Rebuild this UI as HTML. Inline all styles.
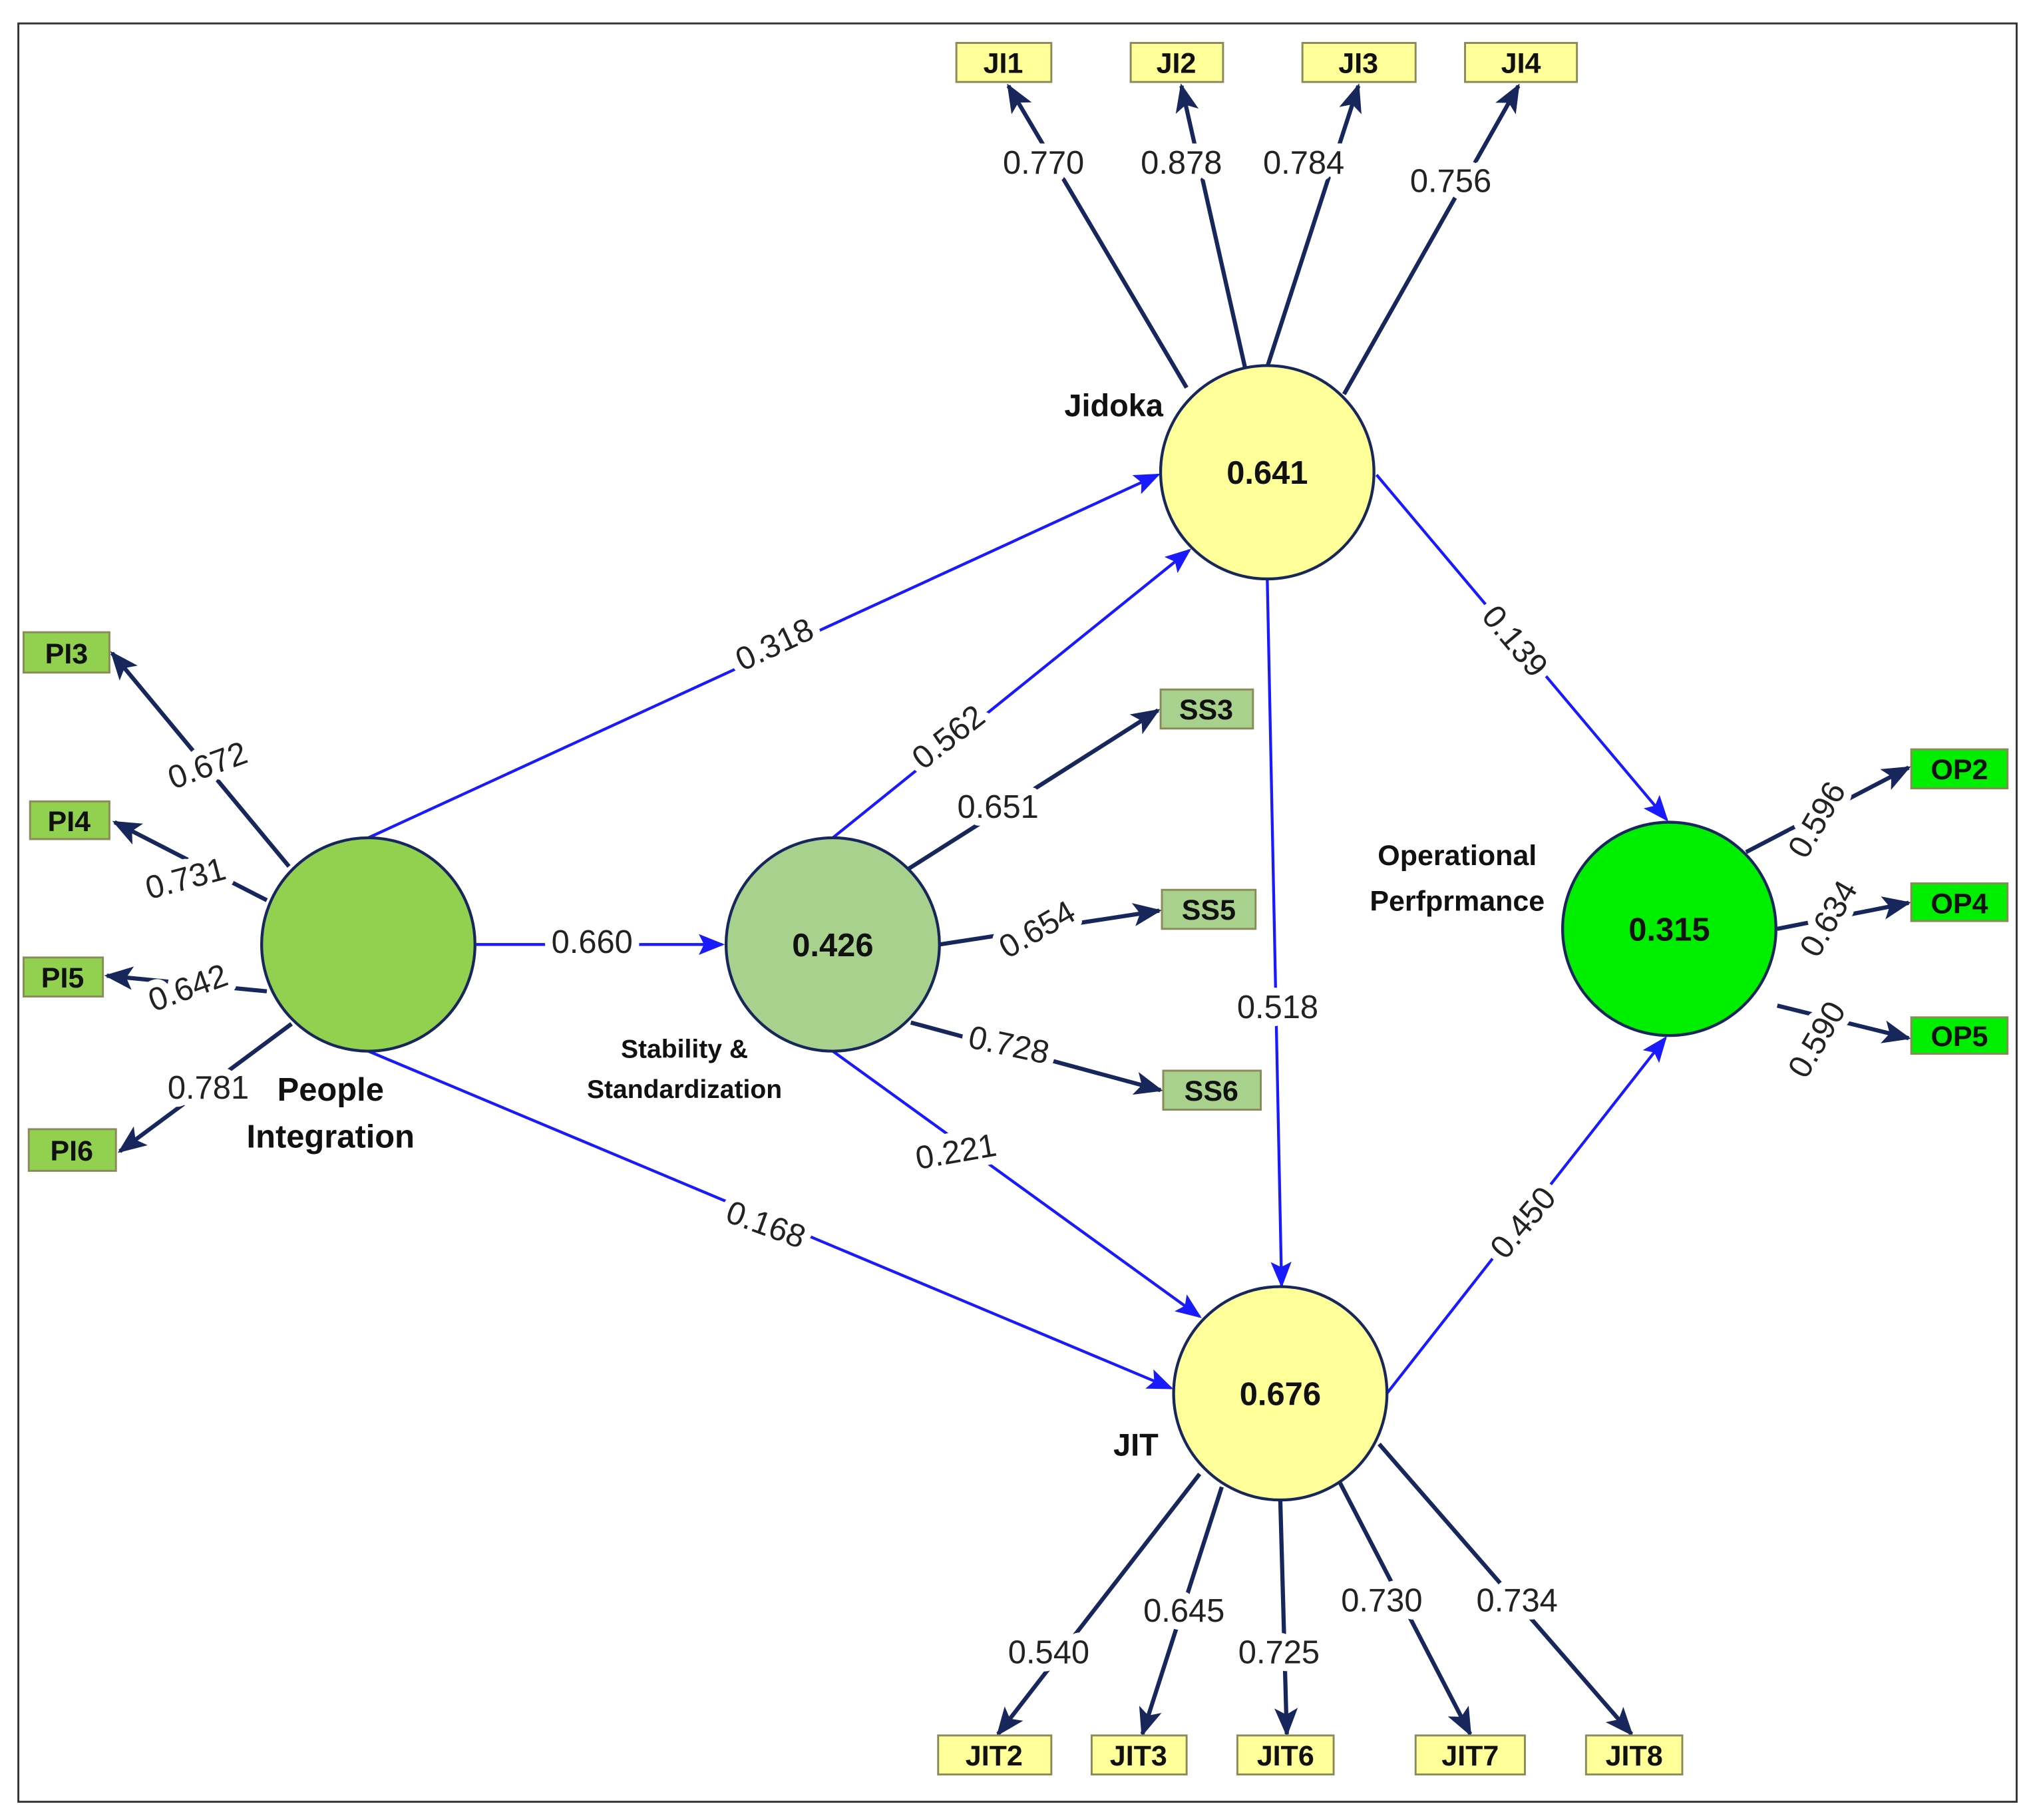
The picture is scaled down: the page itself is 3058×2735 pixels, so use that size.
<!DOCTYPE html>
<html><head><meta charset="utf-8"><style>html,body{margin:0;padding:0;background:#fff}svg{display:block}</style></head>
<body>
<svg width="3058" height="2735" viewBox="0 0 1564 1399" xmlns="http://www.w3.org/2000/svg" font-family="Liberation Sans, sans-serif">
<defs>
<marker id="d" markerUnits="userSpaceOnUse" markerWidth="22" markerHeight="18" refX="20" refY="9" orient="auto"><path d="M0,0 L22,9 L0,18 L5,9 Z" fill="#17275c"/></marker>
<marker id="b" markerUnits="userSpaceOnUse" markerWidth="20" markerHeight="16" refX="18" refY="8" orient="auto"><path d="M0,0 L20,8 L0,16 L4,8 Z" fill="#1a1aff"/></marker>
</defs>
<rect x="0" y="0" width="1564" height="1399" fill="#fff"/>
<rect x="14" y="18" width="1536" height="1367" fill="none" stroke="#333" stroke-width="1.5"/>
<g stroke="#17275c" stroke-width="3.2" marker-end="url(#d)" fill="none">
<line x1="912" y1="298" x2="775" y2="66"/>
<line x1="957" y1="283" x2="908" y2="66"/>
<line x1="974" y1="282" x2="1044" y2="66"/>
<line x1="1033" y1="303" x2="1167" y2="66"/>
<line x1="222" y1="666" x2="86" y2="502"/>
<line x1="205" y1="692" x2="88" y2="632"/>
<line x1="205" y1="762" x2="82" y2="750"/>
<line x1="224" y1="787" x2="92" y2="885"/>
<line x1="698" y1="668" x2="890" y2="546"/>
<line x1="722" y1="726" x2="891" y2="700"/>
<line x1="700" y1="786" x2="892" y2="838"/>
<line x1="1342" y1="655" x2="1467" y2="590"/>
<line x1="1366" y1="714" x2="1467" y2="694"/>
<line x1="1366" y1="773" x2="1467" y2="798"/>
<line x1="922" y1="1133" x2="767" y2="1333"/>
<line x1="939" y1="1143" x2="878" y2="1333"/>
<line x1="984" y1="1153" x2="989" y2="1333"/>
<line x1="1030" y1="1140" x2="1130" y2="1333"/>
<line x1="1060" y1="1110" x2="1254" y2="1333"/>
</g>
<g stroke="#1a1aff" stroke-width="2.2" marker-end="url(#b)" fill="none">
<line x1="283" y1="644" x2="890" y2="365"/>
<line x1="366" y1="726" x2="555" y2="726"/>
<line x1="283" y1="808" x2="900" y2="1067"/>
<line x1="640" y1="644" x2="914" y2="423"/>
<line x1="640" y1="808" x2="922" y2="1012"/>
<line x1="974" y1="445" x2="985" y2="988"/>
<line x1="1058" y1="365" x2="1281" y2="630"/>
<line x1="1066" y1="1071" x2="1280" y2="798"/>
</g>
<g stroke="#17275c" stroke-width="2.2">
<circle cx="283" cy="726" r="82" fill="#92d050"/>
<circle cx="640" cy="726" r="82" fill="#a9d18e"/>
<circle cx="974" cy="363" r="82" fill="#ffff99"/>
<circle cx="984" cy="1071" r="82" fill="#ffff99"/>
<circle cx="1283" cy="714" r="82" fill="#00ee00"/>
</g>
<g font-weight="bold" font-size="25" text-anchor="middle" fill="#111">
<text x="640" y="735">0.426</text>
<text x="974" y="372">0.641</text>
<text x="984" y="1080">0.676</text>
<text x="1283" y="723">0.315</text>
</g>
<g stroke="#8a8a5a" stroke-width="1.5" font-weight="bold" font-size="22" text-anchor="middle">
<rect x="735" y="33" width="73" height="30" fill="#ffff99"/><rect x="869" y="33" width="71" height="30" fill="#ffff99"/>
<rect x="1001" y="33" width="87" height="30" fill="#ffff99"/><rect x="1126" y="33" width="86" height="30" fill="#ffff99"/>
<rect x="18" y="486" width="66" height="31" fill="#92d050"/><rect x="23" y="616" width="61" height="29" fill="#92d050"/>
<rect x="18" y="736" width="61" height="30" fill="#92d050"/><rect x="22" y="868" width="67" height="32" fill="#92d050"/>
<rect x="892" y="530" width="71" height="30" fill="#a9d18e"/><rect x="893" y="684" width="72" height="30" fill="#a9d18e"/>
<rect x="894" y="823" width="75" height="30" fill="#a9d18e"/>
<rect x="1469" y="576" width="74" height="30" fill="#00ee00"/><rect x="1469" y="679" width="74" height="29" fill="#00ee00"/>
<rect x="1469" y="782" width="74" height="28" fill="#00ee00"/>
<rect x="721" y="1334" width="87" height="30" fill="#ffff99"/><rect x="839" y="1334" width="73" height="30" fill="#ffff99"/>
<rect x="951" y="1334" width="74" height="30" fill="#ffff99"/><rect x="1088" y="1334" width="84" height="30" fill="#ffff99"/>
<rect x="1219" y="1334" width="74" height="30" fill="#ffff99"/>
</g>
<g font-weight="bold" font-size="22" text-anchor="middle" fill="#111">
<text x="771" y="56">JI1</text><text x="904" y="56">JI2</text><text x="1044" y="56">JI3</text><text x="1169" y="56">JI4</text>
<text x="51" y="510">PI3</text><text x="53" y="639">PI4</text><text x="48" y="759">PI5</text><text x="55" y="892">PI6</text>
<text x="927" y="553">SS3</text><text x="929" y="707">SS5</text><text x="931" y="846">SS6</text>
<text x="1506" y="599">OP2</text><text x="1506" y="702">OP4</text><text x="1506" y="804">OP5</text>
<text x="764" y="1357">JIT2</text><text x="875" y="1357">JIT3</text><text x="988" y="1357">JIT6</text><text x="1130" y="1357">JIT7</text><text x="1256" y="1357">JIT8</text>
</g>
<g font-size="25" text-anchor="middle" fill="#222" stroke="#fff" stroke-width="12" stroke-linejoin="round" paint-order="stroke" dominant-baseline="middle">
<text x="802" y="127">0.770</text><text x="908" y="127">0.878</text><text x="1002" y="127">0.784</text><text x="1115" y="141">0.756</text>
<text transform="translate(160,590) rotate(-20)">0.672</text>
<text transform="translate(143,677) rotate(-15)">0.731</text>
<text transform="translate(145,761) rotate(-20)">0.642</text>
<text x="160" y="838">0.781</text>
<text x="767" y="622">0.651</text>
<text transform="translate(798,716) rotate(-30)">0.654</text>
<text transform="translate(775,805) rotate(12)">0.728</text>
<text transform="translate(1398,631) rotate(-60)">0.596</text>
<text transform="translate(1407,707) rotate(-60)">0.634</text>
<text transform="translate(1398,800) rotate(-60)">0.590</text>
<text x="806" y="1272">0.540</text><text x="910" y="1240">0.645</text><text x="983" y="1272">0.725</text>
<text x="1062" y="1232">0.730</text><text x="1166" y="1232">0.734</text>
<text transform="translate(596,497) rotate(-25)">0.318</text>
<text x="455" y="726">0.660</text>
<text transform="translate(588,943) rotate(20)">0.168</text>
<text transform="translate(730,568) rotate(-38)">0.562</text>
<text transform="translate(735,887) rotate(-10)">0.221</text>
<text x="982" y="776">0.518</text>
<text transform="translate(1163,494) rotate(50)">0.139</text>
<text transform="translate(1172,941) rotate(-50)">0.450</text>
</g>
<g font-weight="bold" fill="#111" text-anchor="middle">
<text x="856" y="320" font-size="24">Jidoka</text>
<text x="254" y="846" font-size="25">People</text>
<text x="254" y="882" font-size="25">Integration</text>
<text x="526" y="813" font-size="20">Stability &amp;</text>
<text x="526" y="844" font-size="20">Standardization</text>
<text x="1120" y="665" font-size="22">Operational</text>
<text x="1120" y="700" font-size="22">Perfprmance</text>
<text x="873" y="1119" font-size="24">JIT</text>
</g>
</svg>
</body></html>
